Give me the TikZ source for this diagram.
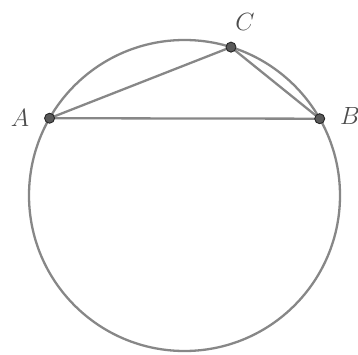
\documentclass[tikz,border=0pt]{standalone}
\usepackage{fontspec}
\usetikzlibrary{calc}
\begin{document}
\begin{tikzpicture}[x=1pt,y=1pt,
  geo/.style={draw=black!47, line width=2.3pt},
  dot/.style={circle, fill=black!65, draw=black!85, line width=0.9pt, inner sep=0pt, minimum size=10pt},
  lbl/.style={text=black!70, font=\fontsize{29}{32}\selectfont, inner sep=0pt}]
\useasboundingbox (0,0) rectangle (358,354);
\coordinate (O) at (184.5,158.5);
\draw[geo] (O) circle (155.5);
\coordinate (a) at ($(O)+(150.2:155.5)$);
\coordinate (b) at ($(O)+(29.6:155.5)$);
\coordinate (c) at ($(O)+(72.6:155.5)$);
\draw[geo, line join=round] (a) -- (b) -- (c) -- cycle;
\node[dot] (A) at (a) {};
\node[dot] (B) at (b) {};
\node[dot] (C) at (c) {};
\node[lbl] (LA) at (20,236) {$A$};
\node[lbl] (LB) at (350,238) {$B$};
\node[lbl] (LC) at (245,332) {$C$};
\end{tikzpicture}
\end{document}
